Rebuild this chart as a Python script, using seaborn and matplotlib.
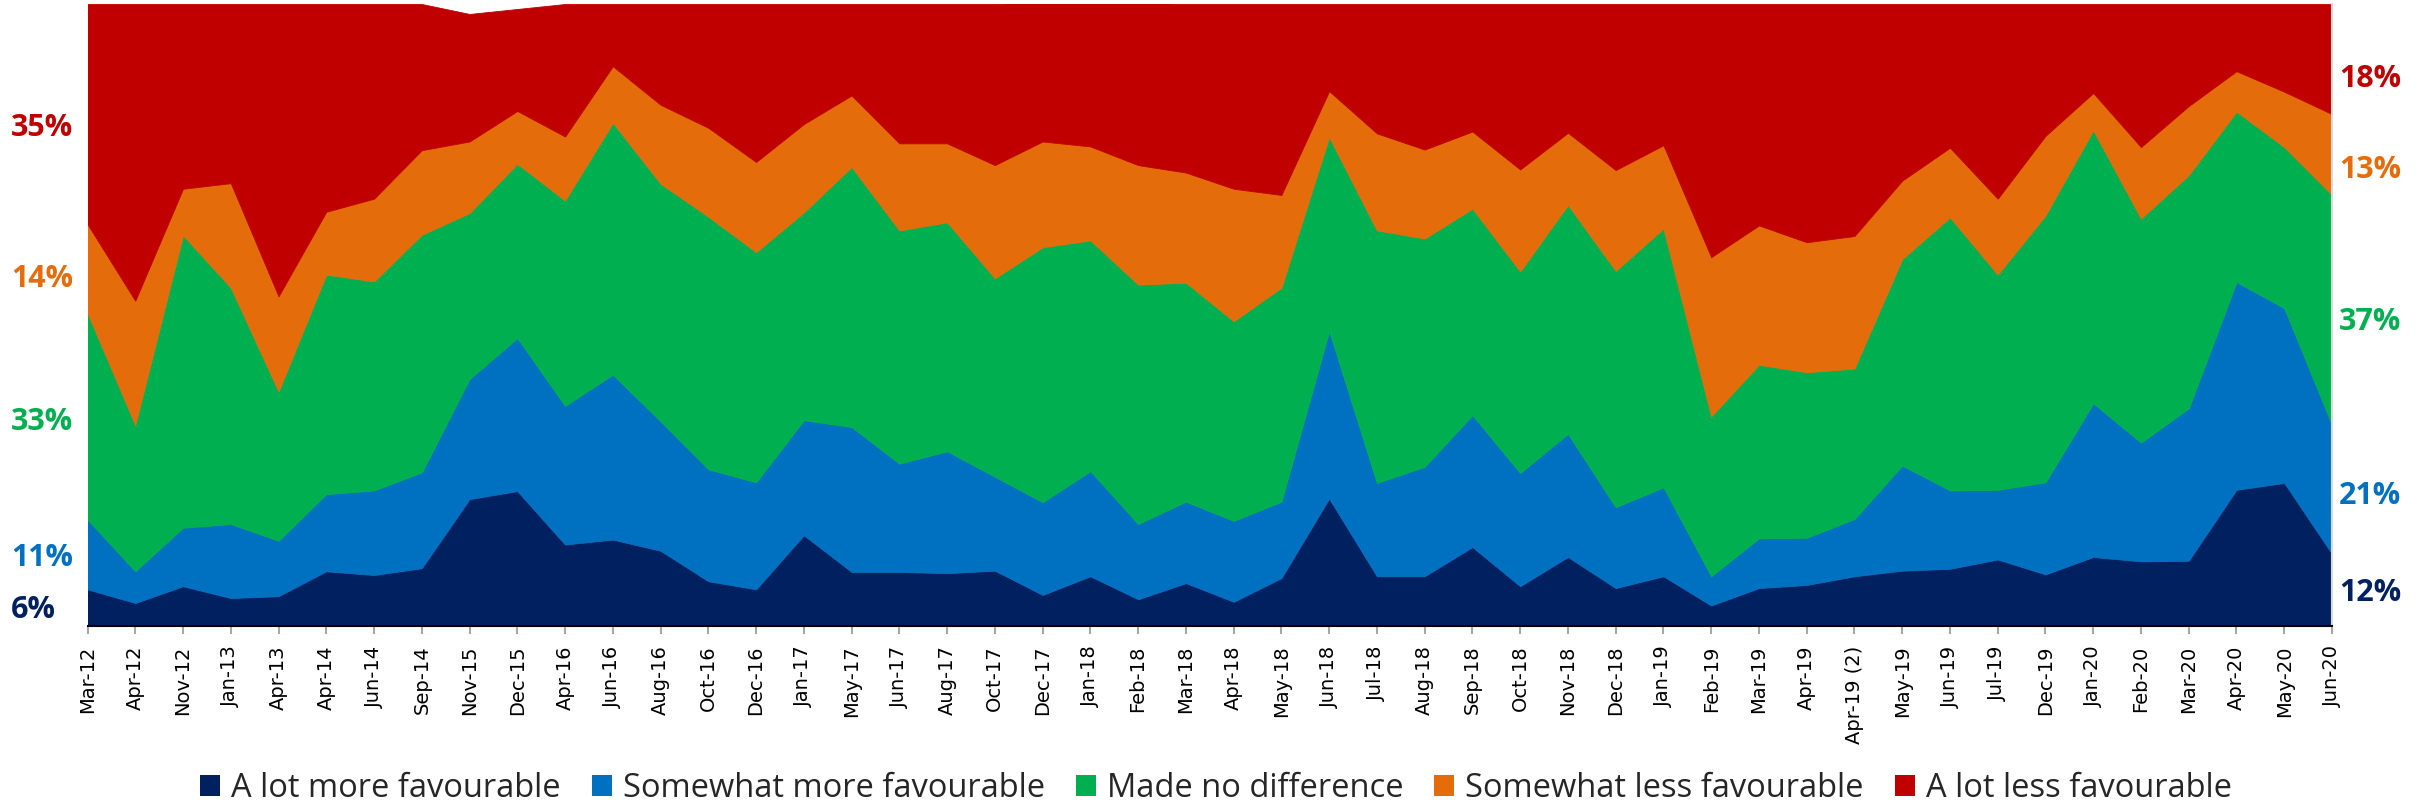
import numpy as np
import pandas as pd
import seaborn as sns
import matplotlib
matplotlib.use("Agg")
import matplotlib.pyplot as plt
from matplotlib.patches import Patch

categories = ["Mar-12", "Apr-12", "Nov-12", "Jan-13", "Apr-13", "Apr-14", "Jun-14", "Sep-14",
              "Nov-15", "Dec-15", "Apr-16", "Jun-16", "Aug-16", "Oct-16", "Dec-16", "Jan-17",
              "May-17", "Jun-17", "Aug-17", "Oct-17", "Dec-17", "Jan-18", "Feb-18", "Mar-18",
              "Apr-18", "May-18", "Jun-18", "Jul-18", "Aug-18", "Sep-18", "Oct-18", "Nov-18",
              "Dec-18", "Jan-19", "Feb-19", "Mar-19", "Apr-19", "Apr-19 (2)", "May-19", "Jun-19",
              "Jul-19", "Dec-19", "Jan-20", "Feb-20", "Mar-20", "Apr-20", "May-20", "Jun-20"]

a_lot_more = [5.9, 3.7, 6.4, 4.5, 4.8, 8.8, 8.2, 9.3, 20.4, 21.7, 13.1, 13.9, 12.1, 7.2, 5.9, 14.6,
              8.7, 8.7, 8.5, 8.9, 5.0, 8.0, 4.3, 6.9, 3.9, 7.7, 20.5, 8.0, 8.0, 12.7, 6.4, 11.1,
              6.1, 8.0, 3.3, 6.1, 6.6, 8.0, 8.9, 9.2, 10.7, 8.3, 11.1, 10.4, 10.5, 21.9, 23.0, 11.6]
somewhat_more = [11.2, 5.1, 9.4, 11.9, 8.9, 12.4, 13.6, 15.4, 19.3, 24.6, 22.3, 26.5, 20.8, 18.0, 17.2, 18.5,
                 23.3, 17.4, 19.6, 15.1, 14.9, 16.9, 12.1, 13.1, 13.0, 12.3, 26.9, 15.0, 17.6, 21.2, 18.2, 19.8,
                 13.0, 14.3, 4.7, 8.0, 7.6, 9.2, 16.9, 12.6, 11.2, 14.8, 24.7, 19.1, 24.5, 33.4, 28.1, 20.7]
no_difference = [33.2, 23.5, 47.0, 38.0, 24.0, 35.3, 33.6, 38.2, 26.7, 28.0, 33.0, 40.5, 38.2, 40.6, 37.0, 33.4,
                 41.8, 37.5, 36.8, 31.9, 41.0, 37.1, 38.5, 35.2, 32.1, 34.4, 31.2, 40.6, 36.7, 33.2, 32.4, 36.8,
                 38.0, 41.6, 25.7, 27.9, 26.6, 24.2, 33.2, 43.9, 34.6, 42.9, 43.9, 36.0, 37.5, 27.4, 25.9, 37.0]
somewhat_less = [14.3, 20.0, 7.5, 16.8, 15.3, 10.1, 13.3, 13.6, 11.5, 8.5, 10.3, 9.1, 12.7, 14.3, 14.5, 14.2,
                 11.5, 14.0, 12.7, 18.2, 17.0, 15.1, 19.2, 17.7, 21.3, 14.9, 7.4, 15.6, 14.3, 12.4, 16.4, 11.6,
                 16.2, 13.4, 25.6, 22.4, 20.9, 21.3, 12.6, 11.2, 12.2, 12.8, 6.0, 11.5, 11.1, 6.5, 8.9, 13.0]
a_lot_less = [35.4, 47.7, 29.7, 28.8, 47.0, 33.4, 31.3, 23.5, 20.5, 16.4, 21.3, 10.0, 16.2, 19.9, 25.4, 19.3,
              14.7, 22.4, 22.4, 25.9, 22.4, 23.2, 26.1, 27.1, 29.7, 30.7, 14.0, 20.8, 23.4, 20.5, 26.6, 20.7,
              26.7, 22.7, 40.7, 35.6, 38.3, 37.3, 28.4, 23.1, 31.3, 21.2, 14.3, 23.0, 16.4, 10.8, 14.1, 17.7]

series_names = ["A lot more favourable", "Somewhat more favourable", "Made no difference",
                "Somewhat less favourable", "A lot less favourable"]
start_labels = ["6%", "11%", "33%", "14%", "35%"]
end_labels = ["12%", "21%", "37%", "13%", "18%"]
colors = ["#002060", "#0070C0", "#00B050", "#E46C0A", "#C00000"]

df = pd.DataFrame({
    series_names[0]: a_lot_more,
    series_names[1]: somewhat_more,
    series_names[2]: no_difference,
    series_names[3]: somewhat_less,
    series_names[4]: a_lot_less,
}, index=categories)

sns.set_theme(style="white")
palette = sns.color_palette(colors)
plt.rcParams['font.family'] = ['DejaVu Sans']

W, H = 2420, 807
fig = plt.figure(figsize=(W / 100, H / 100), dpi=100)
left, right, top, bottom = 87.5, 2332, 4, 626
ax = fig.add_axes([left / W, 1 - bottom / H, (right - left) / W, (bottom - top) / H])

x = np.arange(len(categories))
polys = ax.stackplot(x, *[df[c].values for c in series_names], colors=palette)
for p, c in zip(polys, palette):
    p.set_edgecolor(c)
    p.set_linewidth(0.6)

ax.set_xlim(0, len(categories) - 1)
ax.set_ylim(0, 100)
ax.set_yticks([])
ax.set_xticks(x)
ax.set_xticklabels(categories, rotation=90, fontsize=14, color="#000000")
ax.tick_params(axis='x', bottom=True, length=6, width=1.5, color="#A6A6A6", pad=8)
for s in ["top", "left"]:
    ax.spines[s].set_visible(False)
ax.spines["bottom"].set_color("#000000")
ax.spines["bottom"].set_linewidth(1.5)
ax.spines["right"].set_color("#D9D9D9")
ax.spines["right"].set_linewidth(1.5)

# Edge value labels
left_y = [610, 558, 422, 279, 128]
right_y = [593, 496, 322, 170, 79]
for lab, yy, c in zip(start_labels, left_y, palette):
    fig.text(11 / W, 1 - yy / H, lab, color=c, fontsize=22, fontweight='bold',
             family=['Open Sans', 'DejaVu Sans'], ha='left', va='center')
for lab, yy, c in zip(end_labels, right_y, palette):
    fig.text(2339 / W, 1 - yy / H, lab, color=c, fontsize=22, fontweight='bold',
             family=['Open Sans', 'DejaVu Sans'], ha='left', va='center')

handles = [Patch(facecolor=c, edgecolor='none', label=n) for c, n in zip(palette, series_names)]
fig.legend(handles=handles, loc='center', bbox_to_anchor=(1216 / W, 1 - 788.5 / H), ncol=5,
           frameon=False, prop={'family': ['Open Sans', 'DejaVu Sans'], 'size': 23.5},
           handlelength=0.61, handleheight=0.65, handletextpad=0.34, columnspacing=0.95,
           borderpad=0, borderaxespad=0)

fig.savefig("out.png", dpi=100)
